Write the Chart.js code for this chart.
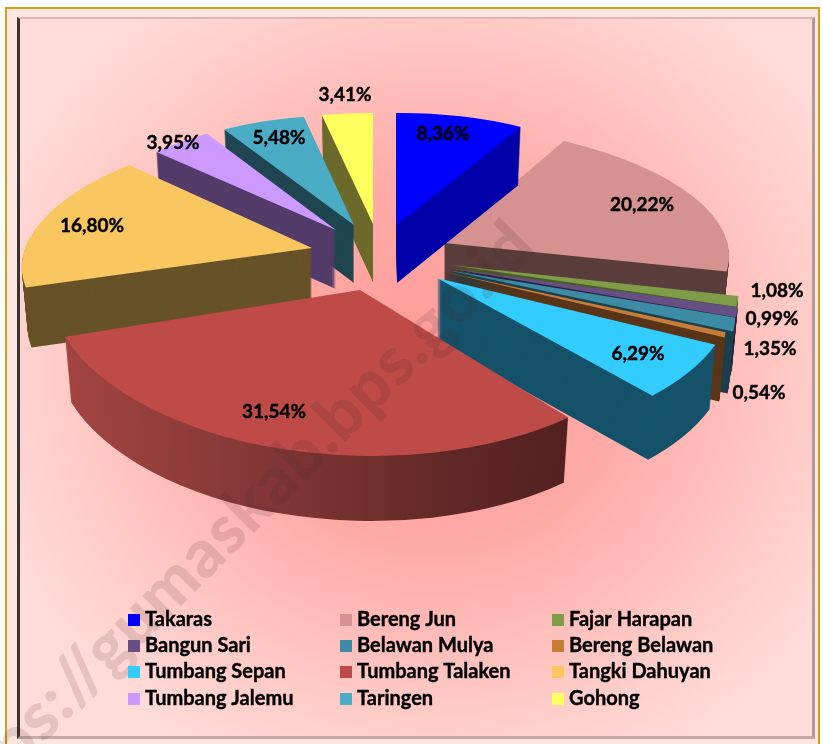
<!DOCTYPE html>
<html>
<head>
<meta charset="utf-8">
<title>Chart</title>
<script src="https://cdn.jsdelivr.net/npm/chart.js@4"></script>
<style>
  html, body { margin: 0; padding: 0; background: #fff; }
  #page { position: relative; width: 823px; height: 744px; overflow: hidden; }
  #gold { position: absolute; left: 5px; top: 7px; width: 811px; height: 760px; border: 2px solid #d3a017; background: #ffe6e2; }
  #panel {
    position: absolute; left: 17px; top: 17px; width: 792px; height: 717px;
    border-left: 3px solid #3a3233; border-top: 2px solid #e3b4b2;
    border-right: 3px solid #b09a9a; border-bottom: 3px solid #c9aaa8;
    background: radial-gradient(ellipse 470px 450px at 415px 345px, #ff9b98 0%, #ffaaa7 40%, #ffc6c2 72%, #ffdcd8 100%);
    background-color: #ffdcd8;
  }
  canvas { position: absolute; left: 0; top: 0; }
</style>
</head>
<body>
<div id="page">
  <div id="gold"></div>
  <div id="panel"></div>
  <canvas id="pie" width="823" height="744"></canvas>
</div>
<script>
// Categories and shares (%)
const categories = [
  "Takaras", "Bereng Jun", "Fajar Harapan", "Bangun Sari",
  "Belawan Mulya", "Bereng Belawan", "Tumbang Sepan", "Tumbang Talaken",
  "Tangki Dahuyan", "Tumbang Jalemu", "Taringen", "Gohong",
];
const shares = [8.36, 20.22, 1.08, 0.99, 1.35, 0.54, 6.29, 31.54, 16.8, 3.95, 5.48, 3.41];

const topColors = [
  "#0000ff", "#d69290", "#7f9c48", "#654f84", "#3c8ca5", "#c77c38",
  "#33ccff", "#be4b48", "#f9c660", "#cc99ff", "#4bacc6", "#ffff5e",
];
const wallColors = [
  "#0000a8", "#5a3d3c", "#4c5c26", "#2c2240", "#1c3f4d", "#5a3518",
  "#15526a", null, "#675228", "#533c69", "#1f4650", "#6c6a2b",
];

// Perspective of each exploded slice: [xFromSin, xFromCos, yFromSin, yFromCos, tipX, tipY]
const sliceFrames = [
  [249, 1, -2, 112, 397, 225],
  [284, 26, 2, 119, 444, 243],
  [285, 47, -6, 165, 450, 265],
  [285, 59, -10, 169, 448, 268],
  [274, 90, -13, 172, 447, 270],
  [263, 100, -10, 163, 445, 272],
  [297, 31, -7, 160, 437, 278],
  [311, 10, 1, 166, 360, 290],
  [288, -36, -4, 124, 312, 248],
  [258, -9, -1, 114, 336, 230],
  [250, -3, 4, 110, 354, 225],
  [241, 0, 2, 111, 373, 224],
];
const sliceDepths = [58, 56, 60, 60, 62, 64, 64, 65, 60, 59, 58, 58];
const wallTaper = 0.02;
const drawOrder = [11, 10, 9, 8, 1, 0, 2, 3, 4, 5, 6, 7];

const labelSpots = [
  [443, 134], [642, 205], [777, 291], [772, 319], [770, 349], [759, 393],
  [638, 354], [274, 412], [92, 226], [173, 143], [279, 138], [345, 95],
];
const legendColumns = [128, 340, 552];
const legendRows = [620, 646, 672, 699];

const watermark = "https://gumaskab.bps.go.id";
const labelFont = 'bold 19px Lato, "Open Sans", sans-serif';
const legendFont = 'bold 20px Lato, "Open Sans", sans-serif';

function placeSlice(ctx, el, i, down, shrink) {
  const f = sliceFrames[i];
  ctx.transform(
    (f[0] / 100) * shrink, f[2] / 100,
    (f[1] / 100) * shrink, f[3] / 100,
    f[4], f[5] + down
  );
  ctx.translate(-el.x, -el.y);
}

function boldText(ctx, text, x, y) {
  ctx.fillText(text, x, y);
  ctx.strokeText(text, x, y);
}

const pie3d = {
  id: "pie3d",
  beforeDatasetsDraw(chart) {
    const ctx = chart.ctx;
    const arcs = chart.getDatasetMeta(0).data;
    drawOrder.forEach((i) => {
      const el = arcs[i];
      const topOptions = el.options;
      let wall = wallColors[i];
      if (!wall) {
        // Talaken's wall fades from left to right
        wall = ctx.createLinearGradient(el.x - 100, 0, el.x + 100, 0);
        wall.addColorStop(0, "#a44542");
        wall.addColorStop(0.35, "#803634");
        wall.addColorStop(0.65, "#5e2725");
        wall.addColorStop(1, "#471a19");
      }
      el.options = Object.assign({}, topOptions, { backgroundColor: wall });
      for (let d = sliceDepths[i]; d >= 1; d--) {
        ctx.save();
        placeSlice(ctx, el, i, d, 1 - (wallTaper * d) / sliceDepths[i]);
        el.draw(ctx);
        ctx.restore();
      }
      el.options = topOptions;
      ctx.save();
      placeSlice(ctx, el, i, 0, 1);
      el.draw(ctx);
      ctx.restore();
    });
    return false;
  },
  afterDraw(chart) {
    const ctx = chart.ctx;

    ctx.save();
    ctx.translate(538, 249);
    ctx.rotate((-45 * Math.PI) / 180);
    ctx.font = '900 67px Lato, "Open Sans", sans-serif';
    ctx.letterSpacing = "1px";
    ctx.textAlign = "right";
    ctx.textBaseline = "alphabetic";
    ctx.fillStyle = "rgba(70, 40, 40, 0.14)";
    ctx.fillText(watermark, 0, 0);
    ctx.restore();

    ctx.save();
    ctx.font = labelFont;
    ctx.fillStyle = "#000";
    ctx.strokeStyle = "#000";
    ctx.lineWidth = 0.4;
    ctx.textAlign = "center";
    ctx.textBaseline = "middle";
    shares.forEach((v, i) => {
      boldText(ctx, v.toFixed(2).replace(".", ",") + "%", labelSpots[i][0], labelSpots[i][1]);
    });
    ctx.font = legendFont;
    ctx.textAlign = "left";
    categories.forEach((name, i) => {
      const x = legendColumns[i % 3];
      const y = legendRows[Math.floor(i / 3)];
      ctx.fillStyle = topColors[i];
      ctx.fillRect(x, y - 6, 12, 12);
      ctx.fillStyle = "#000";
      boldText(ctx, name, x + 17, y);
    });
    ctx.restore();
  },
};

new Chart(document.getElementById("pie").getContext("2d"), {
  type: "pie",
  data: {
    labels: categories,
    datasets: [{ data: shares, backgroundColor: topColors, borderWidth: 0 }],
  },
  options: {
    responsive: false,
    animation: false,
    radius: 100,
    plugins: { legend: { display: false }, tooltip: { enabled: false } },
  },
  plugins: [pie3d],
});
</script>
</body>
</html>
